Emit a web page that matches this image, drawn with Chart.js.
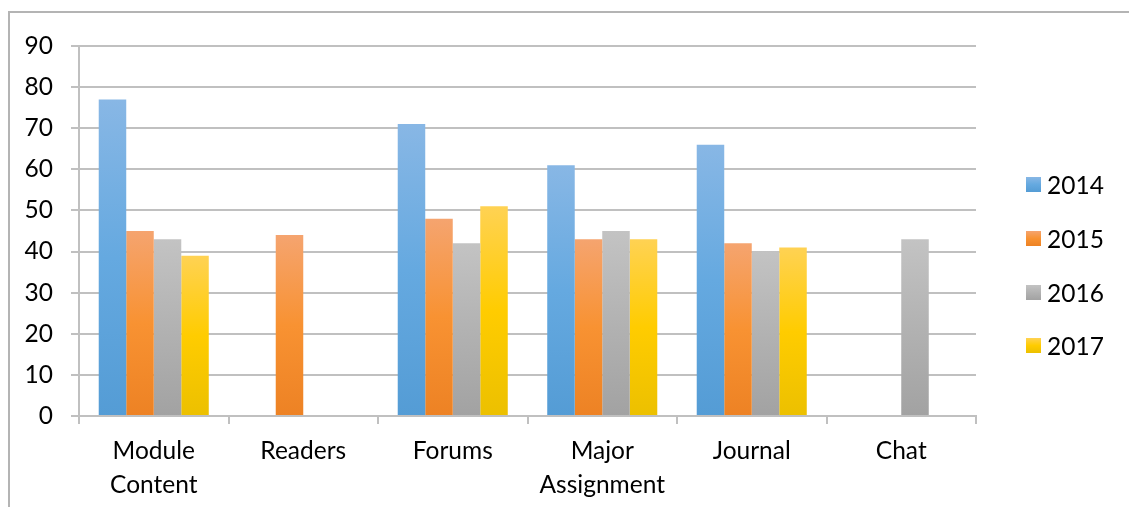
<!DOCTYPE html>
<html>
<head>
<meta charset="utf-8">
<script src="https://cdn.jsdelivr.net/npm/chart.js@4.4.1/dist/chart.umd.min.js"></script>
<style>
  html, body { margin: 0; padding: 0; background: #fff; }
  #wrap { position: relative; width: 1129px; height: 507px; overflow: hidden; }
  #frame {
    position: absolute; left: 8px; top: 11px; width: 1200px; height: 600px;
    border-top: 2px solid #b4b4b4; border-left: 2px solid #b4b4b4;
  }
  #box { position: absolute; left: 0; top: 0; width: 1129px; height: 507px; }
  #legend { position: absolute; left: 1026px; top: 0; font-family: Lato, sans-serif; font-size: 24.5px; color: #000; }
  #legend .item { position: absolute; left: 0; display: flex; align-items: center; white-space: nowrap; height: 30px; margin-top: -15px; }
  #legend .sw { width: 15px; height: 15px; margin-right: 6px; }
</style>
</head>
<body>
<div id="wrap">
  <div id="frame"></div>
  <div id="box"><canvas id="chart"></canvas></div>
  <div id="legend"></div>
</div>
<script>
/* =====================
   DATA
===================== */
const categories = [["Module", "Content"], "Readers", "Forums", ["Major", "Assignment"], "Journal", "Chat"];
const seriesNames = ["2014", "2015", "2016", "2017"];
const values2014 = [77, null, 71, 61, 66, null];
const values2015 = [45, 44, 48, 43, 42, null];
const values2016 = [43, null, 42, 45, 40, 43];
const values2017 = [39, null, 51, 43, 41, null];
const yTicks = [0, 10, 20, 30, 40, 50, 60, 70, 80, 90];

// light top / base / darker bottom
const fills = [
  ["#88b7e5", "#65a9e0", "#549cd5"],
  ["#f5a46f", "#f89232", "#ed8224"],
  ["#c3c3c3", "#b2b2b2", "#a2a2a2"],
  ["#ffd253", "#ffcc00", "#ecc000"]
];

const FONT = "Lato, sans-serif";
const GRID = "#c0c0c0";

/* =====================
   BAR GRADIENT
===================== */
function barFill(stops) {
  return c => {
    const chart = c.chart;
    if (!chart.chartArea || c.type !== "data" || c.raw == null) return stops[1];
    const y = chart.scales.y;
    const top = y.getPixelForValue(c.raw);
    const base = y.getPixelForValue(0);
    const g = chart.ctx.createLinearGradient(0, top, 0, base);
    g.addColorStop(0, stops[0]);
    g.addColorStop(0.5, stops[1]);
    g.addColorStop(1, stops[2]);
    return g;
  };
}

const allValues = [values2014, values2015, values2016, values2017];

new Chart(document.getElementById("chart"), {
  type: "bar",
  data: {
    labels: categories,
    datasets: allValues.map((v, i) => ({
      label: seriesNames[i],
      data: v,
      backgroundColor: barFill(fills[i]),
      borderWidth: 0,
      barPercentage: 1,
      categoryPercentage: 0.736
    }))
  },
  options: {
    responsive: true,
    maintainAspectRatio: false,
    animation: false,
    layout: { padding: { top: 46, right: 153, bottom: 0, left: 0 } },
    plugins: { legend: { display: false }, tooltip: { enabled: false } },
    scales: {
      x: {
        grid: { drawOnChartArea: false, drawTicks: true, tickLength: 8, color: GRID, lineWidth: 2 },
        border: { color: GRID, width: 2 },
        ticks: { color: "#000", padding: 10, font: { family: FONT, size: 24.5, lineHeight: 1.38 }, maxRotation: 0, autoSkip: false },
        afterFit: s => { s.height = 91; }
      },
      y: {
        min: 0,
        max: 90,
        afterBuildTicks: s => { s.ticks = yTicks.map(v => ({ value: v })); },
        grid: { color: GRID, lineWidth: 2, tickLength: 8 },
        border: { color: GRID, width: 2 },
        ticks: { color: "#000", padding: 18, font: { family: FONT, size: 24.5 } },
        afterFit: s => { s.width = 79; }
      }
    }
  }
});

/* =====================
   LEGEND
===================== */
const legendY = [184, 238, 292, 345];
document.getElementById("legend").innerHTML = seriesNames.map((n, i) => `
  <div class="item" style="top:${legendY[i]}px">
    <div class="sw" style="background:linear-gradient(${fills[i][0]}, ${fills[i][1]}, ${fills[i][2]})"></div>${n}
  </div>
`).join("");
</script>
</body>
</html>
